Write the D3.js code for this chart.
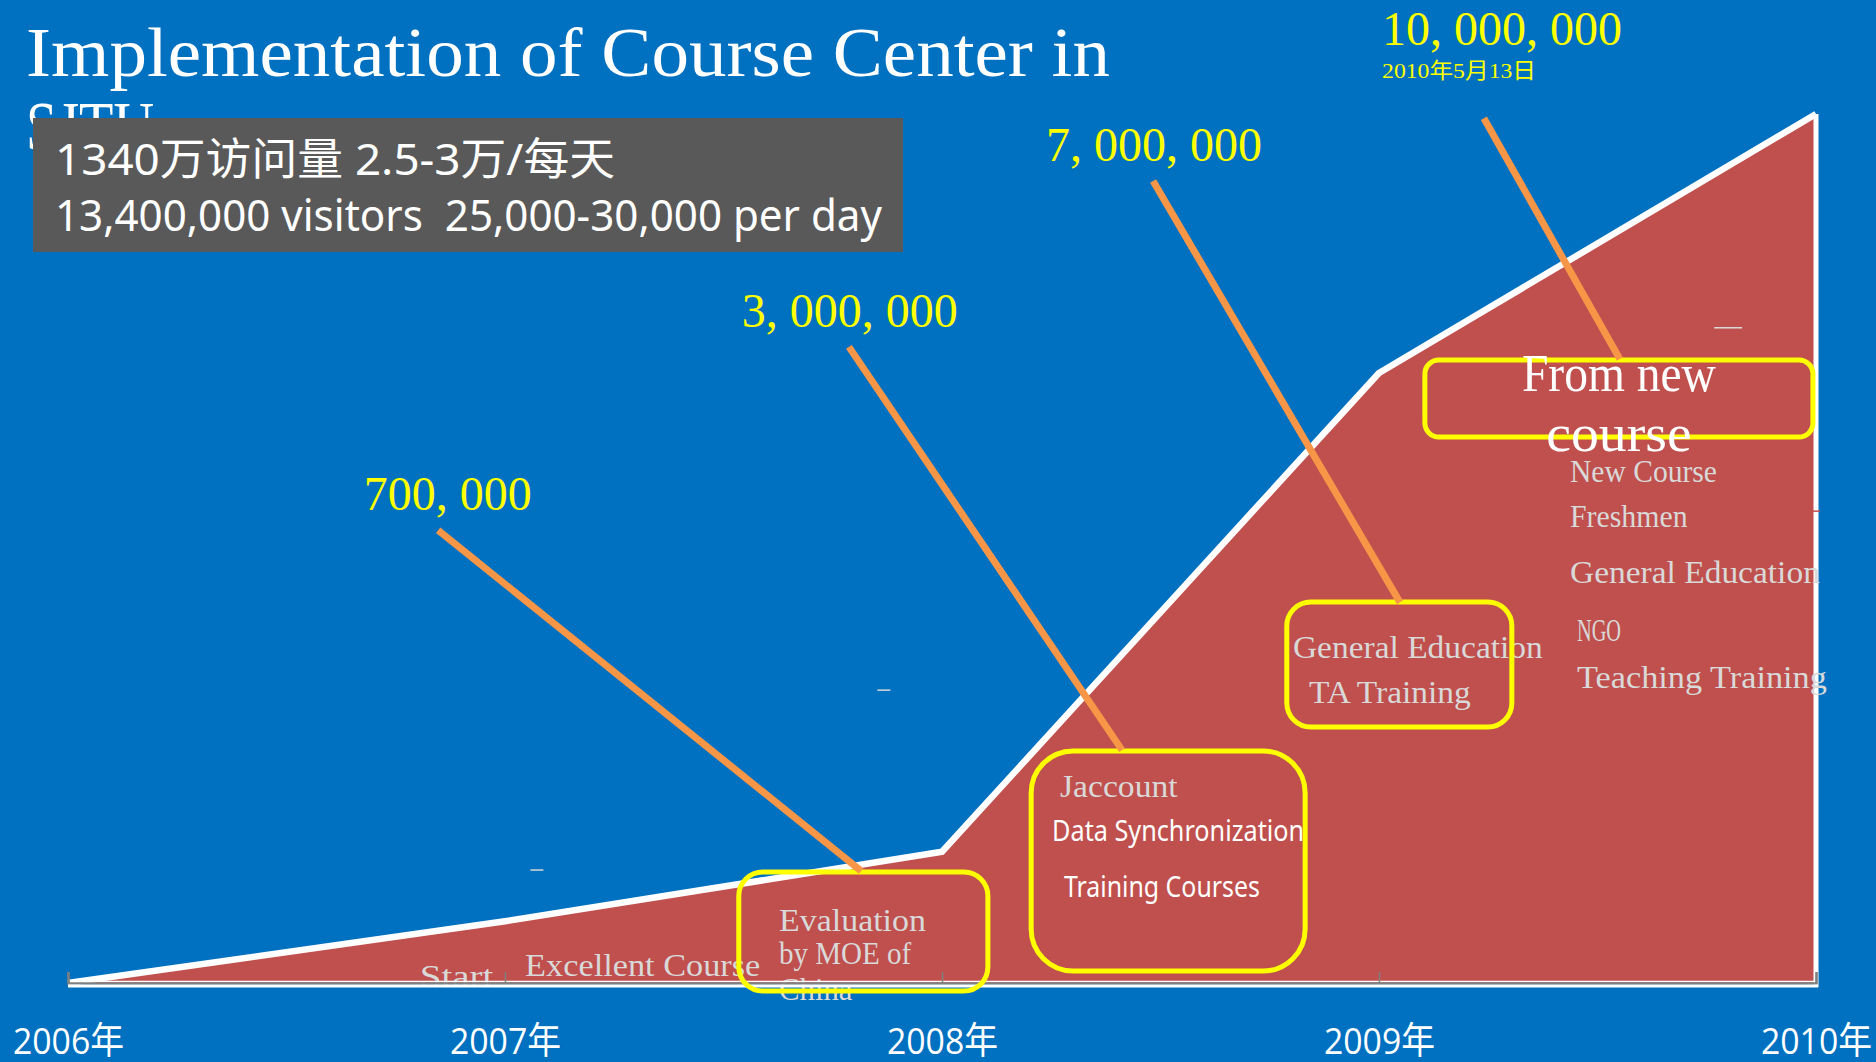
<!DOCTYPE html>
<html>
<head>
<meta charset="utf-8">
<script src="https://cdn.jsdelivr.net/npm/d3@7"></script>
<style>
  html, body { margin: 0; padding: 0; background: #0070C0; }
  svg { display: block; }
  text { white-space: pre; }
</style>
</head>
<body>
<div id="chart"></div>
<script>
// ---------------- data ----------------
const years = [2006, 2007, 2008, 2009, 2010];
const yearLabels = ["2006年", "2007年", "2008年", "2009年", "2010年"];
// relative growth of the course-center visits (drawn shape, % of final height)
const growth = [0, 7.1, 15.1, 70.2, 100];

// milestone call-outs (yellow numbers), anchored in data units [year, value]
const milestoneText = ["700, 000", "3, 000, 000", "7, 000, 000", "10, 000, 000"];
const milestoneAt = [[2006.677, 54.4], [2007.542, 75.5], [2008.238, 94.6], [2009.007, 107.9]];
const milestoneDate = "2010年5月13日";
const milestoneDateAt = [2009.007, 104.1];

// orange leader lines [yearFrom, valueFrom, yearTo, valueTo]
const leaders = [
  [2006.847, 52.1, 2007.815, 12.9],
  [2007.787, 73.2, 2008.412, 26.8],
  [2008.483, 92.3, 2009.048, 43.8],
  [2009.240, 99.5, 2009.551, 71.8]
];
// yellow rounded boxes [yearLeft, yearRight, valueTop, valueBottom]
const boxes = [
  [2007.535, 2008.105, 12.77, -0.92],
  [2008.204, 2008.831, 26.70, 1.38],
  [2008.789, 2009.304, 43.84, 29.46],
  [2009.105, 2009.993, 71.69, 62.83]
];
const boxRadius = [24, 42, 24, 14];

// grey serif labels inside the area [text, year, value]
const eventLabels = [
  ["Start", 2006.805, -0.46],
  ["Excellent Course", 2007.046, 0.85],
  ["Evaluation", 2007.627, 6.0],
  ["by MOE of", 2007.627, 2.2],
  ["China", 2007.627, -1.9],
  ["Jaccount", 2008.270, 21.4],
  ["General Education", 2008.803, 37.4],
  ["TA Training", 2008.840, 32.2],
  ["New Course", 2009.437, 57.7],
  ["Freshmen", 2009.437, 52.5],
  ["General Education", 2009.437, 46.0],
  ["NGO", 2009.453, 39.3],
  ["Teaching Training", 2009.453, 34.0]
];
// white sans labels [text, year, value, width]
const sansLabels = [
  ["Data Synchronization", 2008.252, 16.3, 252],
  ["Training Courses", 2008.279, 9.95, 196]
];
const bigLabels = [["From new", 2009.549, 68.1], ["course", 2009.549, 61.2]];
// tiny stray marks [year, value, widthPx, color]
const strayMarks = [
  [2007.073, 13.0, 13, "#d9d9d9"],
  [2007.867, 33.7, 13, "#d9d9d9"],
  [2009.799, 75.4, 28, "#d9d9d9"],
  [2010.0, 54.3, 8, "#c0504d"]
];

// ---------------- layout ----------------
const W = 1876, H = 1062;
const svg = d3.select("#chart").append("svg").attr("width", W).attr("height", H);
svg.append("rect").attr("width", W).attr("height", H).attr("fill", "#0070C0");

const x = d3.scaleLinear().domain([2006, 2010]).range([68, 1816]);
const y = d3.scaleLinear().domain([0, 100]).range([983, 114]);

const MONO = "'Liberation Serif', 'DejaVu Serif', serif";
const SANS = "'Noto Sans', 'Open Sans', 'Noto Sans CJK SC', sans-serif";
const SERIF = "'Liberation Serif', 'Noto Sans CJK SC', serif";

// title (partially covered by the grey box)
svg.append("text").attr("x", 26).attr("y", 76)
  .attr("font-family", MONO).attr("font-size", 70).attr("fill", "#fff")
  .attr("textLength", 1084).attr("lengthAdjust", "spacingAndGlyphs")
  .text("Implementation of Course Center in");
svg.append("text").attr("x", 26).attr("y", 150)
  .attr("font-family", MONO).attr("font-size", 70).attr("fill", "#fff")
  .attr("textLength", 128).attr("lengthAdjust", "spacingAndGlyphs")
  .text("SJTU");

// grey info box
svg.append("rect").attr("x", 33).attr("y", 118).attr("width", 870).attr("height", 134).attr("fill", "#595959");
svg.append("text").attr("x", 55).attr("y", 175)
  .attr("font-family", SANS).attr("font-size", 44).attr("fill", "#fff")
  .attr("textLength", 560).attr("lengthAdjust", "spacingAndGlyphs")
  .text("1340万访问量 2.5-3万/每天");
svg.append("text").attr("x", 55).attr("y", 231)
  .attr("font-family", SANS).attr("font-size", 44).attr("fill", "#fff")
  .attr("textLength", 827).attr("lengthAdjust", "spacingAndGlyphs")
  .text("13,400,000 visitors  25,000-30,000 per day");

// area
const pts = years.map((yr, i) => ({yr, v: growth[i]}));
const area = d3.area().x(d => x(d.yr)).y0(y(0)).y1(d => y(d.v));
const line = d3.line().x(d => x(d.yr)).y(d => y(d.v));
svg.append("path").datum(pts).attr("d", area).attr("fill", "#C0504D");
svg.append("path").datum(pts).attr("d", line).attr("fill", "none")
  .attr("stroke", "#fff").attr("stroke-width", 6.5).attr("stroke-linejoin", "round");
// right edge
svg.append("line").attr("x1", x(2010)).attr("x2", x(2010))
  .attr("y1", y(growth[4])).attr("y2", y(0) + 4)
  .attr("stroke", "#fff").attr("stroke-width", 5);

// event labels (grey serif, monospaced width)
eventLabels.forEach(([t, yr, v]) => {
  svg.append("text").attr("x", x(yr)).attr("y", y(v))
    .attr("font-family", MONO).attr("font-size", 32).attr("fill", "#d9d9d9")
    .attr("textLength", t.length * 14.7).attr("lengthAdjust", "spacingAndGlyphs")
    .text(t);
});

// x axis
svg.append("line").attr("x1", x(2006)).attr("x2", x(2010) + 2)
  .attr("y1", y(0) - 1.5).attr("y2", y(0) - 1.5).attr("stroke", "#fff").attr("stroke-width", 1.5);
const axis = d3.axisBottom(x).tickValues(years).tickSize(-11).tickPadding(45)
  .tickFormat((d, i) => yearLabels[i]);
const gAxis = svg.append("g").attr("transform", `translate(0,${y(0)})`).call(axis);
gAxis.select(".domain").attr("stroke", "#808080").attr("stroke-width", 2.5);
gAxis.selectAll(".tick line").attr("stroke", "#808080").attr("stroke-width", 1.5);
gAxis.selectAll(".tick text")
  .attr("font-family", "'Open Sans', 'Noto Sans CJK SC', sans-serif")
  .attr("font-size", 37).attr("fill", "#fff").attr("dy", "0.71em")
  .attr("textLength", 111).attr("lengthAdjust", "spacingAndGlyphs");
svg.append("line").attr("x1", x(2006)).attr("x2", x(2010) + 2)
  .attr("y1", y(0) + 3).attr("y2", y(0) + 3).attr("stroke", "#fff").attr("stroke-width", 3);

// stray marks
strayMarks.forEach(([yr, v, w, c]) => {
  svg.append("line").attr("x1", x(yr) - w / 2).attr("x2", x(yr) + w / 2)
    .attr("y1", y(v)).attr("y2", y(v)).attr("stroke", c).attr("stroke-width", 1.5);
});

// yellow boxes
boxes.forEach(([a, b, t, btm], i) => {
  svg.append("rect").attr("x", x(a)).attr("y", y(t))
    .attr("width", x(b) - x(a)).attr("height", y(btm) - y(t))
    .attr("rx", boxRadius[i]).attr("ry", boxRadius[i])
    .attr("fill", "none").attr("stroke", "#FFFF00").attr("stroke-width", 5);
});

// white sans labels
sansLabels.forEach(([t, yr, v, w]) => {
  svg.append("text").attr("x", x(yr)).attr("y", y(v))
    .attr("font-family", SANS).attr("font-size", 29).attr("fill", "#fff")
    .attr("textLength", w).attr("lengthAdjust", "spacingAndGlyphs").text(t);
});
// big white serif labels
bigLabels.forEach(([t, yr, v]) => {
  svg.append("text").attr("x", x(yr)).attr("y", y(v)).attr("text-anchor", "middle")
    .attr("font-family", MONO).attr("font-size", 53).attr("fill", "#fff")
    .attr("textLength", t.length * 24.25).attr("lengthAdjust", "spacingAndGlyphs").text(t);
});

// orange leader lines
leaders.forEach(([a, va, b, vb]) => {
  svg.append("line").attr("x1", x(a)).attr("y1", y(va)).attr("x2", x(b)).attr("y2", y(vb))
    .attr("stroke", "#F79646").attr("stroke-width", 7);
});

// yellow milestone numbers
milestoneText.forEach((t, i) => {
  svg.append("text").attr("x", x(milestoneAt[i][0])).attr("y", y(milestoneAt[i][1]))
    .attr("font-family", SERIF).attr("font-size", 48).attr("fill", "#FFFF00").text(t);
});
svg.append("text").attr("x", x(milestoneDateAt[0])).attr("y", y(milestoneDateAt[1]))
  .attr("font-family", SERIF).attr("font-size", 22).attr("fill", "#FFFF00")
  .attr("textLength", 154).attr("lengthAdjust", "spacingAndGlyphs").text(milestoneDate);
</script>
</body>
</html>
